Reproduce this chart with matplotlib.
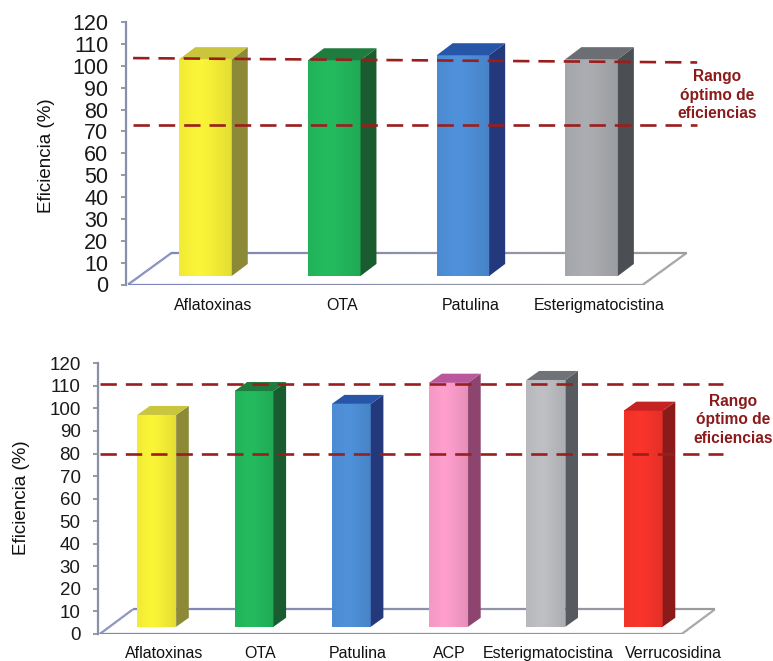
import numpy as np
import matplotlib
matplotlib.use("Agg")
import matplotlib.pyplot as plt
from matplotlib.patches import Polygon
from matplotlib.collections import LineCollection
from matplotlib.colors import to_rgb

plt.rcParams['font.family'] = ['Liberation Sans', 'DejaVu Sans']

# ---- data ---------------------------------------------------------------
cats_a = ["Aflatoxinas", "OTA", "Patulina", "Esterigmatocistina"]
eff_a = [103.0, 102.5, 104.8, 103.0]
range_a_low = [73.0, 73.0]        # optimal-range limits (left end, right end)
range_a_high = [103.5, 101.5]

cats_b = ["Aflatoxinas", "OTA", "Patulina", "ACP", "Esterigmatocistina", "Verrucosidina"]
eff_b = [97.1, 107.7, 102.0, 111.4, 112.6, 99.0]
range_b_low = [79.7, 79.7]
range_b_high = [110.8, 110.8]

yticks = list(range(0, 121, 10))
ylabel = "Eficiencia (%)"
range_label = "Rango\nóptimo de\neficiencias"

# ---- styles: (front, side, top) colour for each column ------------------
YELLOW = ('#EFE935', '#8C8A36', '#C9C53D')
GREEN = ('#22B25A', '#185C30', '#1E7C3E')
BLUE = ('#4B8AD0', '#24397C', '#2756A8')
GREY_A = ('#A3A5A9', '#4B4E52', '#6B6E72')
GREY_B = ('#B5B7BB', '#575A5E', '#6F7276')
PINK = ('#F297C3', '#8D446F', '#B9589A')
RED = ('#EE3229', '#8B1B1B', '#C62222')

colors_a = [YELLOW, GREEN, BLUE, GREY_A]
colors_b = [YELLOW, GREEN, BLUE, PINK, GREY_B, RED]

DASH_COLOR = '#9B1E1E'
TEXT_COLOR = '#8B1A1A'
AXIS_COLOR = '#8A90A8'

W, H = 773, 661
fig = plt.figure(figsize=(W / 100, H / 100), dpi=100)


def shade(c, f):
    r = np.array(to_rgb(c)) * f
    return np.clip(r, 0, 1)


def floor_edges(ax, pts, c_left, c_right, x0, x1, n=40):
    segs, cols = [], []
    for (p, q) in pts:
        xs = np.linspace(p[0], q[0], n + 1)
        ys = np.linspace(p[1], q[1], n + 1)
        for k in range(n):
            segs.append([(xs[k], ys[k]), (xs[k + 1], ys[k + 1])])
            t = np.clip(((xs[k] + xs[k + 1]) / 2 - x0) / (x1 - x0), 0, 1)
            cols.append(np.array(to_rgb(c_left)) * (1 - t) + np.array(to_rgb(c_right)) * t)
    ax.add_collection(LineCollection(segs, colors=cols, linewidths=1.6, zorder=1.5))


def draw_panel(ax, cats, vals, colors, g, low, high, tick_fs):
    n = len(cats)
    xs = np.arange(n)
    # floor
    fx0, fx1, fdx, fdy = g['floor_x0'], g['floor_x1'], g['fdx'], g['fdy']
    corners = [(fx0, 0), (fx1, 0), (fx1 + fdx, fdy), (fx0 + fdx, fdy)]
    ax.add_patch(Polygon(corners, closed=True, facecolor='white', edgecolor='none', zorder=1))
    edges = [(corners[i], corners[(i + 1) % 4]) for i in range(4)]
    floor_edges(ax, edges, '#7C84BC', '#9C9C9C', fx0, fx1 + fdx)

    w, b, bdx, bdy = g['width'], g['base'], g['bdx'], g['bdy']
    for x, v, (cf, cs, ct) in zip(xs, vals, colors):
        l, r = x - w / 2, x + w / 2
        # front face with a soft horizontal shading
        t = np.linspace(0, 1, 64)
        prof = 1.0 + 0.05 * np.exp(-((t - 0.4) / 0.3) ** 2) - 0.05 * (t ** 4)
        img = np.stack([shade(cf, f) for f in prof])[None, :, :]
        ax.imshow(img, extent=(l, r, b, v), aspect='auto', origin='lower',
                  interpolation='bilinear', zorder=2)
        side = [(r, b), (r + bdx, b + bdy), (r + bdx, v + bdy), (r, v)]
        ax.add_patch(Polygon(side, closed=True, facecolor=cs, edgecolor='none', zorder=2))
        top = [(l, v), (l + bdx, v + bdy), (r + bdx, v + bdy), (r, v)]
        ax.add_patch(Polygon(top, closed=True, facecolor=ct, edgecolor='none', zorder=2))

    # optimal range lines
    lx0, lx1 = g['line_x']
    for lv in (low, high):
        ax.plot([lx0, lx1], lv, color=DASH_COLOR, lw=1.9, dashes=(6.2, 3.4),
                solid_capstyle='butt', dash_capstyle='butt', zorder=5, clip_on=False)
    tx, ty = g['text']
    ax.text(tx, ty, range_label, ha='center', va='center', fontsize=11.2,
            fontweight='bold', color=TEXT_COLOR, linespacing=1.3, zorder=6, clip_on=False)

    ax.set_xlim(*g['xlim'])
    ax.set_ylim(0, 120)
    ax.set_yticks(yticks)
    ax.set_yticklabels([str(t) for t in yticks], fontsize=tick_fs, color='#1A1A1A')
    ax.set_xticks(xs + bdx / 2 + np.array(g['label_shift']))
    ax.set_xticklabels(cats, fontsize=11.5, color='#111111')
    ax.tick_params(axis='x', length=0, pad=g['xpad'])
    ax.tick_params(axis='y', direction='out', length=3.8, width=1.3,
                   color=AXIS_COLOR, pad=9)
    for s in ('top', 'right', 'bottom'):
        ax.spines[s].set_visible(False)
    ax.spines['left'].set_color(AXIS_COLOR)
    ax.spines['left'].set_linewidth(1.6)
    ax.set_facecolor('none')


geom_a = dict(width=0.408, base=3.9, bdx=0.124, bdy=5.5,
              floor_x0=-0.602, floor_x1=3.40, fdx=0.337, fdy=14.4,
              xlim=(-0.618, 4.409), line_x=(-0.563, 3.82), text=(3.972, 86.6),
              xpad=9.5, label_shift=[0, 0, 0, 0])
geom_b = dict(width=0.40, base=3.2, bdx=0.13, bdy=4.0,
              floor_x0=-0.585, floor_x1=5.396, fdx=0.34, fdy=10.9,
              xlim=(-0.600, 6.334), line_x=(-0.58, 5.82), text=(5.923, 94.9),
              xpad=8.5, label_shift=[0.01, 0.0, 0.0, -0.06, -0.04, 0.25])

ax_a = fig.add_axes([126 / W, 1 - 284.5 / H, (W - 126) / W, 262.5 / H])
ax_b = fig.add_axes([98.3 / W, 1 - 634 / H, (W - 98.3) / W, 270.7 / H])

draw_panel(ax_a, cats_a, eff_a, colors_a, geom_a, range_a_low, range_a_high, 15.5)
draw_panel(ax_b, cats_b, eff_b, colors_b, geom_b, range_b_low, range_b_high, 13.5)

fig.text(46.7 / W, 1 - 155.5 / H, ylabel, rotation=90, ha='center', va='center',
         fontsize=13.5, color='#111111')
fig.text(21.7 / W, 1 - 497.5 / H, ylabel, rotation=90, ha='center', va='center',
         fontsize=13.5, color='#111111')

fig.savefig("out.png", dpi=100, facecolor='white')
